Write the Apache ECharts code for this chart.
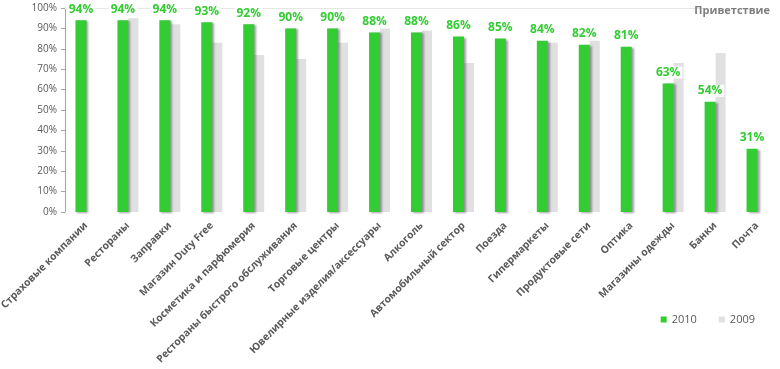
<!DOCTYPE html>
<html><head><meta charset="utf-8">
<script src="https://cdn.jsdelivr.net/npm/echarts@6/dist/echarts.min.js"></script>
<style>html,body{margin:0;padding:0;background:#fff}#c{width:780px;height:369px}</style>
</head><body><div id="c"></div>
<script>
const categories = ["Страховые компании","Рестораны","Заправки","Магазин Duty Free","Косметика и парфюмерия","Рестораны быстрого обслуживания","Торговые центры","Ювелирные изделия/аксессуары","Алкоголь","Автомобильный сектор","Поезда","Гипермаркеты","Продуктовые сети","Оптика","Магазины одежды","Банки","Почта"];
const values2010 = [94,94,94,93,92,90,90,88,88,86,85,84,82,81,63,54,31];
const values2009 = [null,95,92,83,77,75,83,90,89,73,null,83,84,null,73,78,null];
const yTicks = [0,10,20,30,40,50,60,70,80,90,100];

const chart = echarts.init(document.getElementById('c'));
chart.setOption({
  animation:false,
  title:{text:'Приветствие',right:5,top:0,textStyle:{fontFamily:'Open Sans',fontSize:11,fontWeight:'bold',color:'#7f7f7f'}},
  legend:{right:20,top:309,itemWidth:6,itemHeight:6,itemGap:22,icon:'rect',
    textStyle:{fontFamily:'Open Sans',fontSize:11,color:'#595959'},
    data:['2010','2009']},
  grid:{left:65,right:2,top:8,bottom:157,containLabel:false,outerBoundsMode:'none'},
  xAxis:{type:'category',data:categories,
    axisLine:{show:false},axisTick:{show:false},
    axisLabel:{rotate:45,interval:0,margin:12,fontFamily:'Open Sans',fontSize:10.3,fontWeight:'bold',color:'#595959'}},
  yAxis:{type:'value',min:0,max:100,interval:10,
    axisLine:{show:true,lineStyle:{color:'#a6a6a6'}},
    axisTick:{show:true,inside:false,length:4,lineStyle:{color:'#a6a6a6'}},
    splitLine:{show:false},
    axisLabel:{margin:8,fontFamily:'Open Sans',fontSize:10,color:'#595959',formatter:v=>yTicks.includes(v)?v+'%':''}},
  series:[
    {name:'2010',type:'bar',data:values2010,barWidth:11,barGap:'0%',z:3,
      itemStyle:{color:'#33cc33',shadowColor:'rgba(80,60,90,0.5)',shadowBlur:2,shadowOffsetX:2,shadowOffsetY:1},
      label:{show:true,position:'top',distance:5,formatter:'{c}%',fontFamily:'Open Sans',fontSize:12,fontWeight:'bold',color:'#33cc33',backgroundColor:'#ffffff',padding:[0,2]}},
    {name:'2009',type:'bar',data:values2009,barWidth:10,z:2,
      itemStyle:{color:'#e0e0e0'},
      markLine:{silent:true,symbol:'none',z:1,label:{show:false},lineStyle:{color:'#e6e6e6',type:'solid',width:1},
        data:[[{coord:[0,100],x:65},{coord:[0,100],x:705}]]}}
  ]
});
</script></body></html>
